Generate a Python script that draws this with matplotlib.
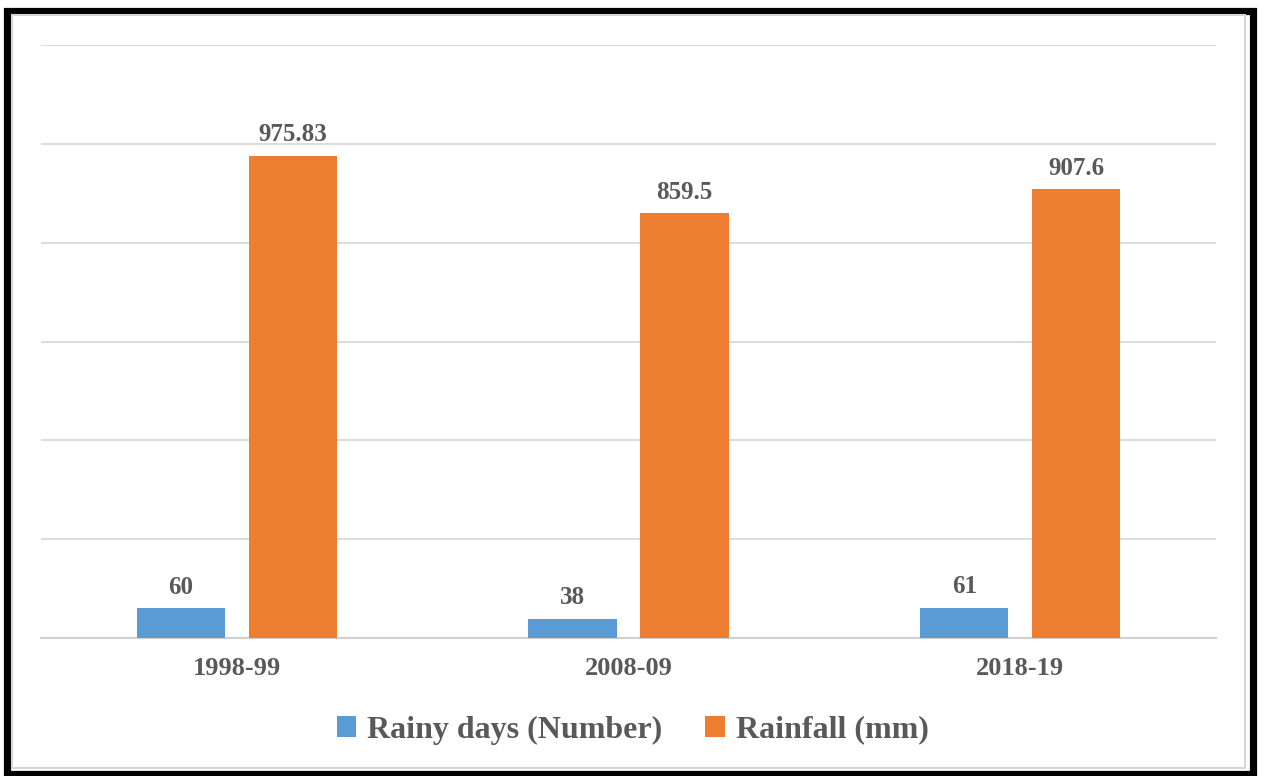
import matplotlib
matplotlib.use("Agg")
import matplotlib.pyplot as plt
from matplotlib.patches import Rectangle
import numpy as np

periods = ["1998-99", "2008-09", "2018-19"]
rainy_days = [60, 38, 61]
rainfall_mm = [975.83, 859.5, 907.6]
rainfall_labels = ["975.83", "859.5", "907.6"]

BLUE = "#5B9BD5"
ORANGE = "#ED7D31"
TEXT = "#595959"
GRID = "#D9D9D9"

plt.rcParams["font.family"] = ["Liberation Serif", "DejaVu Serif"]

W, H = 1265, 776
fig = plt.figure(figsize=(W / 100, H / 100), dpi=100)
ax = fig.add_axes([41 / W, 1 - 638 / H, (1216 - 41) / W, (638 - 45) / H])

x = np.arange(len(periods))
bw = 0.225
gap = 0.061
off = (bw + gap) / 2
b1 = ax.bar(x - off, rainy_days, bw, color=BLUE, label="Rainy days (Number)", zorder=3)
b2 = ax.bar(x + off, rainfall_mm, bw, color=ORANGE, label="Rainfall (mm)", zorder=3)

for rect, v in zip(b1, rainy_days):
    ax.annotate(str(v), (rect.get_x() + rect.get_width() / 2, rect.get_height()),
                xytext=(0, 7), textcoords="offset points", ha="center", va="bottom",
                fontsize=18, fontweight="bold", color=TEXT)
for rect, lab in zip(b2, rainfall_labels):
    ax.annotate(lab, (rect.get_x() + rect.get_width() / 2, rect.get_height()),
                xytext=(0, 7), textcoords="offset points", ha="center", va="bottom",
                fontsize=18, fontweight="bold", color=TEXT)

ax.set_xlim(-0.5, len(periods) - 0.5)
ax.set_ylim(0, 1200)
ax.set_yticks(np.arange(0, 1201, 200))
ax.set_yticklabels([])
ax.yaxis.grid(True, color=GRID, linewidth=1.3, zorder=0)
ax.tick_params(axis="y", length=0)
ax.set_xticks(x)
ax.set_xticklabels(periods, fontsize=19, fontweight="bold", color=TEXT)
ax.tick_params(axis="x", length=0, pad=14)
for s in ["top", "right", "left"]:
    ax.spines[s].set_visible(False)
ax.spines["bottom"].set_color("#D0D0D0")
ax.spines["bottom"].set_linewidth(1.5)

leg = fig.legend(loc="center", bbox_to_anchor=(0.5, 1 - 730 / H), ncol=2, frameon=False,
                 prop={"size": 23, "weight": "bold"}, handlelength=0.62, handleheight=0.62,
                 handletextpad=0.33, columnspacing=1.35)
for t in leg.get_texts():
    t.set_color(TEXT)

# outer frame with inner light rule
fig.patches.append(Rectangle((7.5 / W, 1 - 773.5 / H), (1253 - 7.5) / W, (773.5 - 10.5) / H,
                             transform=fig.transFigure, fill=False, edgecolor="black",
                             linewidth=5.2, zorder=10))
fig.patches.append(Rectangle((12 / W, 1 - 768 / H), (1245 - 12) / W, (768 - 15) / H,
                             transform=fig.transFigure, fill=False, edgecolor="#D6D6D6",
                             linewidth=1.5, zorder=10))

fig.savefig("out.png", dpi=100)
